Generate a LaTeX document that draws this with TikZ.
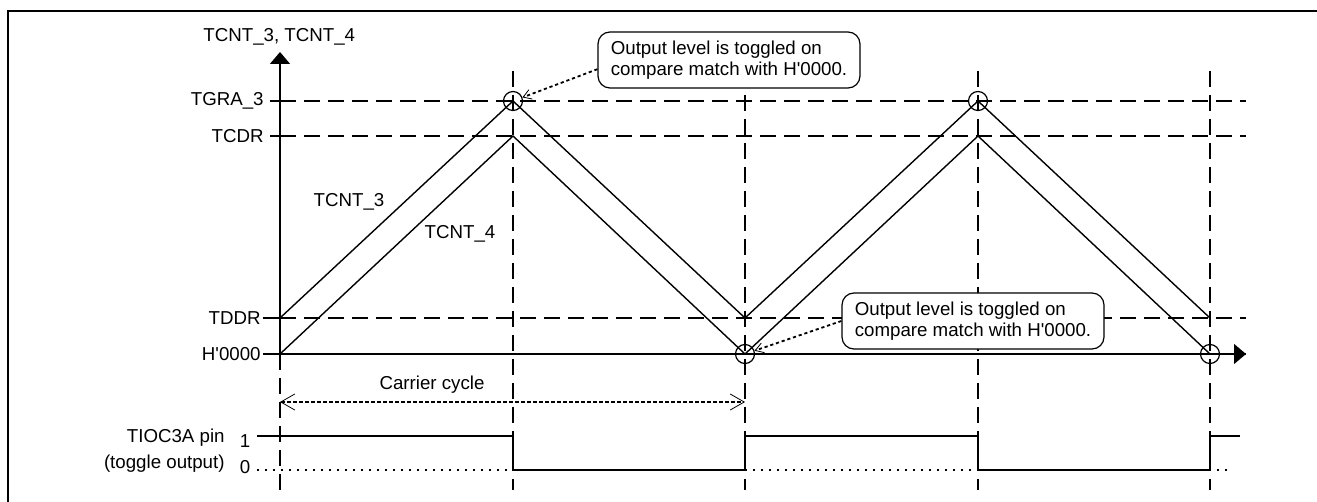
\documentclass[tikz,border=0pt]{standalone}
\usepackage{fontspec}
\setmainfont{Liberation Sans}
\usetikzlibrary{arrows.meta}
\begin{document}
\begin{tikzpicture}[x=0.5pt,y=-0.5pt,
  lbl/.style={font=\fontsize{9.35}{10.5}\selectfont, inner sep=0pt},
  gridline/.style={line width=1pt, dash pattern=on 8pt off 4pt},
  wave/.style={line width=0.7pt},
  sig/.style={line width=0.9pt},
  zerodots/.style={line width=0.9pt, dash pattern=on 0.8pt off 3.2pt},
  hit/.style={circle, draw, line width=0.6pt, minimum size=9.5pt, inner sep=0pt},
  callout/.style={draw, line width=0.6pt, rounded corners=6pt, fill=white,
    minimum width=131pt, minimum height=28pt, align=left, inner sep=0pt,
    font=\fontsize{9.35}{10.5}\selectfont},
  lead/.style={line width=0.9pt, dash pattern=on 1.6pt off 1.4pt,
    -{Straight Barb[length=4pt,width=5pt,line width=0.4pt]}},
  cyc/.style={line width=0.8pt, dash pattern=on 2pt off 1pt,
    {Straight Barb[length=7pt,width=8pt,line width=0.4pt]}-{Straight Barb[length=7pt,width=8pt,line width=0.4pt]}},
  axisarrow/.style={line width=0.7pt, -{Triangle[length=6pt,width=10pt]}}
]
\useasboundingbox (0,0) rectangle (1317,502);
% frame
\draw[line width=1.3pt] (8,530) -- (8,11) -- (1340,11);

% column and level coordinates
\coordinate (X0) at (280,0);
\coordinate (X1) at (513,0);
\coordinate (X2) at (745,0);
\coordinate (X3) at (978,0);
\coordinate (X4) at (1210,0);
\coordinate (Xend) at (1246,0);
\coordinate (Ytop) at (0,71);
\coordinate (Yaxis) at (0,52);
\coordinate (Ygra) at (0,101);
\coordinate (Ycdr) at (0,136);
\coordinate (Ytddr) at (0,318);
\coordinate (Yh) at (0,354);
\coordinate (Yc) at (0,402);
\coordinate (Y1) at (0,436);
\coordinate (Y0) at (0,470);
\coordinate (Ybot) at (0,490);

% vertical dashed lines
\draw[gridline] (X0 |- Yh) -- (X0 |- Ybot);
\foreach \c in {X1,X2,X3,X4}{
  \draw[gridline] (\c |- Ytop) -- (\c |- Ybot);
}
% horizontal dashed lines
\draw[gridline] (X0 |- Ygra) -- (Xend |- Ygra);
\draw[gridline] (X0 |- Ycdr) -- (Xend |- Ycdr);
\draw[gridline] (X0 |- Ytddr) -- (Xend |- Ytddr);
\draw[gridline] (X0 |- Yh) -- (Xend |- Yh);

% axes
\draw[axisarrow] (X0 |- Yh) -- (X0 |- Yaxis);
\draw[axisarrow] (X0 |- Yh) -- (Xend |- Yh);

% ticks
\draw[sig] (270,101) -- (X0 |- Ygra);
\draw[sig] (270,136) -- (X0 |- Ycdr);
\draw[sig] (263,318) -- (X0 |- Ytddr);
\draw[sig] (263,354) -- (X0 |- Yh);

% axis labels
\node[lbl, anchor=west] (ylab) at (203,37) {TCNT\_3, TCNT\_4};
\node[lbl, anchor=east] (lgra) at (264,101) {TGRA\_3};
\node[lbl, anchor=east] (lcdr) at (264,136) {TCDR};
\node[lbl, anchor=east] (ltddr) at (261,318) {TDDR};
\node[lbl, anchor=east] (lh) at (261,354) {H\textquotesingle 0000};

% counters
\draw[wave] (X0 |- Ytddr) -- (X1 |- Ygra) -- (X2 |- Ytddr) -- (X3 |- Ygra) -- (X4 |- Ytddr);
\draw[wave] (X0 |- Yh) -- (X1 |- Ycdr) -- (X2 |- Yh) -- (X3 |- Ycdr) -- (X4 |- Yh);
\node[lbl] (n3) at (349,202) {TCNT\_3};
\node[lbl] (n4) at (460,234) {TCNT\_4};

% compare-match circles
\node[hit] (c1) at (X1 |- Ygra) {};
\node[hit] (c2) at (X2 |- Yh) {};
\node[hit] (c3) at (X3 |- Ygra) {};
\node[hit] (c4) at (X4 |- Yh) {};

% callouts
\node[callout] (co1) at (729,60) {Output level is toggled on\\compare match with H\textquotesingle 0000.};
\node[callout] (co2) at (973,321) {Output level is toggled on\\compare match with H\textquotesingle 0000.};
\draw[lead] (co1.184) -- (c1);
\draw[lead] (co2.west) -- (c2);

% carrier cycle
\draw[cyc] (X0 |- Yc) -- (X2 |- Yc);
\node[lbl] (cc) at (432,385) {Carrier cycle};

% TIOC3A output
\draw[zerodots] (257,470) -- (1228,470);
\draw[sig] (257,436) -- (X1 |- Y1) -- (X1 |- Y0) -- (X2 |- Y0) -- (X2 |- Y1)
  -- (X3 |- Y1) -- (X3 |- Y0) -- (X4 |- Y0) -- (X4 |- Y1) -- (1240,436);
\node[lbl] (one) at (245,441) {1};
\node[lbl] (zero) at (245,467) {0};
\node[lbl, anchor=east] (pin) at (225,438) {TIOC3A pin};
\node[lbl, anchor=east] (tog) at (225,464) {(toggle output)};
\end{tikzpicture}
\end{document}
